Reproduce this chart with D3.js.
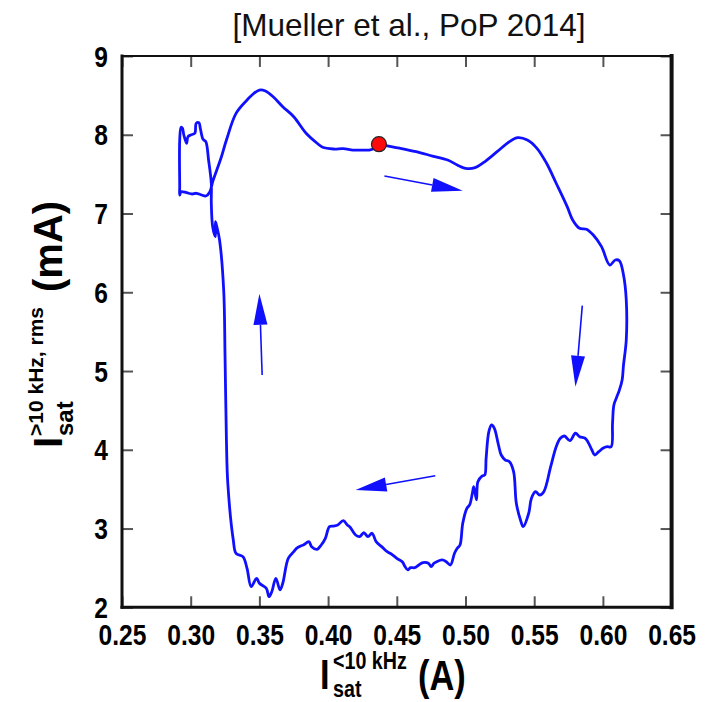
<!DOCTYPE html>
<html>
<head>
<meta charset="utf-8">
<script src="https://cdn.jsdelivr.net/npm/d3@7"></script>
<style>
  body { margin: 0; background: #fff; }
  svg { display: block; }
</style>
</head>
<body>
<svg id="chart" width="706" height="702"></svg>
<script>
// Axis ticks
const xTicks = [0.25, 0.30, 0.35, 0.40, 0.45, 0.50, 0.55, 0.60, 0.65];
const yTicks = [2, 3, 4, 5, 6, 7, 8, 9];

// Trajectory: low-frequency Isat (A) vs high-frequency rms Isat (mA), traced clockwise from the marker
const loopX = [
  0.437, 0.444, 0.452, 0.464, 0.476, 0.487, 0.494, 0.500, 0.507, 0.513,
  0.523, 0.532, 0.538, 0.545, 0.552, 0.559, 0.566, 0.574, 0.578, 0.583,
  0.588, 0.593, 0.599, 0.605, 0.609, 0.612, 0.615, 0.617, 0.617, 0.615,
  0.614, 0.612, 0.610, 0.608, 0.607, 0.606, 0.603, 0.600, 0.597, 0.594,
  0.592, 0.589, 0.587, 0.583, 0.580, 0.576, 0.572, 0.569, 0.566, 0.562,
  0.557, 0.554, 0.551, 0.548, 0.546, 0.542, 0.540, 0.537, 0.535, 0.532,
  0.529, 0.526, 0.524, 0.521, 0.519, 0.517, 0.515, 0.514, 0.512, 0.509,
  0.508, 0.506, 0.505, 0.503, 0.501, 0.498, 0.496, 0.494, 0.492, 0.489,
  0.486, 0.483, 0.479, 0.477, 0.475, 0.473, 0.469, 0.466, 0.463, 0.460,
  0.458, 0.456, 0.454, 0.450, 0.446, 0.443, 0.439, 0.435, 0.432, 0.429,
  0.426, 0.423, 0.420, 0.416, 0.414, 0.411, 0.407, 0.404, 0.401, 0.398,
  0.395, 0.392, 0.388, 0.386, 0.382, 0.380, 0.377, 0.375, 0.371, 0.367,
  0.365, 0.362, 0.359, 0.357, 0.355, 0.350, 0.348, 0.344, 0.341, 0.338,
  0.333, 0.331, 0.327, 0.326, 0.325, 0.324, 0.321,
  0.319, 0.318, 0.318, 0.316, 0.315, 0.315, 0.313, 0.311, 0.309, 0.307,
  0.306, 0.304, 0.303, 0.300, 0.298, 0.297, 0.295, 0.294, 0.293, 0.292,
  0.292, 0.292, 0.293, 0.297, 0.301, 0.304, 0.308, 0.311, 0.314, 0.316,
  0.319, 0.322, 0.326, 0.333, 0.341, 0.346, 0.350, 0.354, 0.360, 0.367,
  0.375, 0.384, 0.392, 0.396, 0.404, 0.411, 0.418, 0.423, 0.430, 0.434,
  0.437
];
const loopY = [
  7.88, 7.857, 7.83, 7.785, 7.73, 7.68, 7.616, 7.574, 7.582, 7.645,
  7.785, 7.912, 7.963, 7.933, 7.828, 7.638, 7.384, 7.087, 6.918, 6.812,
  6.80, 6.727, 6.579, 6.346, 6.41, 6.40, 6.219, 5.902, 5.394, 5.077,
  4.886, 4.759, 4.667, 4.569, 4.336, 4.039, 4.039, 4.019, 3.976, 3.934,
  3.997, 4.103, 4.146, 4.166, 4.21, 4.116, 4.175, 4.146, 4.039, 3.785,
  3.468, 3.426, 3.468, 3.384, 3.194, 3.024, 3.109, 3.321, 3.722, 3.849,
  3.87, 3.934, 4.061, 4.273, 4.315, 4.23, 3.892, 3.68, 3.667, 3.595,
  3.363, 3.532, 3.448, 3.299, 3.257, 3.067, 2.791, 2.749, 2.686, 2.537,
  2.579, 2.601, 2.579, 2.559, 2.516, 2.559, 2.567, 2.537, 2.503, 2.503,
  2.474, 2.516, 2.579, 2.622, 2.677, 2.706, 2.77, 2.833, 2.94, 2.897,
  2.947, 2.897, 2.918, 3.016, 3.045, 3.10, 3.045, 3.032, 3.024, 2.876,
  2.791, 2.737, 2.77, 2.833, 2.791, 2.779, 2.749, 2.706, 2.622, 2.305,
  2.22, 2.368, 2.198, 2.135, 2.242, 2.305, 2.368, 2.262, 2.495, 2.643,
  2.686, 2.855, 3.575, 4.124, 5.182, 6.029, 6.664,
  6.833, 6.896, 6.706, 6.833, 7.13, 7.384, 7.68, 7.912, 7.942, 8.082,
  8.153, 8.145, 8.019, 7.997, 7.975, 7.892, 7.997, 8.082, 8.095, 7.933,
  7.341, 7.235, 7.277, 7.264, 7.248, 7.257, 7.235, 7.222, 7.277, 7.404,
  7.553, 7.701, 7.933, 8.272, 8.441, 8.526, 8.568, 8.559, 8.483, 8.356,
  8.229, 8.019, 7.892, 7.841, 7.819, 7.823, 7.806, 7.806, 7.806, 7.83,
  7.88
];

// Start marker
const markerX = [0.437];
const markerY = [7.88];

// Direction arrows (tail -> tip)
const arrowFromX = [0.441, 0.585, 0.478, 0.352];
const arrowFromY = [7.476, 5.83, 3.671, 4.95];
const arrowToX   = [0.498, 0.580, 0.420, 0.350];
const arrowToY   = [7.29, 4.80, 3.49, 5.98];

const plot = { left: 122, right: 671.6, top: 56, bottom: 607.3 };
const BLUE = "#1010ff";
const FONT = "'Liberation Sans', Arial, Helvetica, sans-serif";

const svg = d3.select("#chart");

const x = d3.scaleLinear().domain([0.25, 0.65]).range([plot.left, plot.right]);
const y = d3.scaleLinear().domain([2, 9]).range([plot.bottom, plot.top]);

// Citation
svg.append("text")
  .attr("x", 409).attr("y", 36)
  .attr("text-anchor", "middle")
  .attr("font-family", FONT)
  .attr("font-size", 31.5)
  .attr("fill", "#111")
  .text("[Mueller et al., PoP 2014]");

// Axes with inward ticks on all four sides
const TICK = 11, NARROW = 0.82;

function styleAxis(g) {
  g.select(".domain").remove();
  g.selectAll(".tick line").attr("stroke", "#555").attr("stroke-width", 2);
}

const gx = svg.append("g")
  .attr("transform", `translate(0,${plot.bottom})`)
  .call(d3.axisBottom(x).tickValues(xTicks).tickSizeInner(-TICK).tickSizeOuter(0)
    .tickFormat(d3.format(".2f")));
styleAxis(gx);
gx.selectAll(".tick text")
  .attr("y", 16).attr("dy", "0.71em")
  .attr("transform", `scale(${NARROW},1)`)
  .attr("font-family", FONT).attr("font-weight", "bold")
  .attr("font-size", 30).attr("fill", "#000");

const gy = svg.append("g")
  .attr("transform", `translate(${plot.left},0)`)
  .call(d3.axisLeft(y).tickValues(yTicks).tickSizeInner(-TICK).tickSizeOuter(0)
    .tickFormat(d3.format("d")));
styleAxis(gy);
gy.selectAll(".tick text")
  .attr("x", -14 / NARROW).attr("dy", "0.34em")
  .attr("transform", `scale(${NARROW},1)`)
  .attr("font-family", FONT).attr("font-weight", "bold")
  .attr("font-size", 30).attr("fill", "#000");

const gt = svg.append("g")
  .attr("transform", `translate(0,${plot.top})`)
  .call(d3.axisTop(x).tickValues(xTicks).tickSizeInner(-TICK).tickSizeOuter(0).tickFormat(""));
styleAxis(gt);

const gr = svg.append("g")
  .attr("transform", `translate(${plot.right},0)`)
  .call(d3.axisRight(y).tickValues(yTicks).tickSizeInner(-TICK).tickSizeOuter(0).tickFormat(""));
styleAxis(gr);

// Frame
const frame = svg.append("g").attr("stroke", "#111").attr("stroke-linecap", "square");
frame.append("line").attr("x1", plot.left).attr("x2", plot.right).attr("y1", plot.top).attr("y2", plot.top).attr("stroke-width", 2);
frame.append("line").attr("x1", plot.left).attr("x2", plot.right).attr("y1", plot.bottom).attr("y2", plot.bottom).attr("stroke-width", 3);
frame.append("line").attr("x1", plot.left).attr("x2", plot.left).attr("y1", plot.top).attr("y2", plot.bottom).attr("stroke-width", 3);
frame.append("line").attr("x1", plot.right).attr("x2", plot.right).attr("y1", plot.top).attr("y2", plot.bottom).attr("stroke-width", 4);

// Trajectory
const pts = loopX.map((v, i) => [v, loopY[i]]);
svg.append("path")
  .datum(pts)
  .attr("fill", "none")
  .attr("stroke", BLUE)
  .attr("stroke-width", 2.8)
  .attr("stroke-linejoin", "round")
  .attr("stroke-linecap", "round")
  .attr("d", d3.line().x(d => x(d[0])).y(d => y(d[1])).curve(d3.curveCatmullRom.alpha(0.5)));

// Arrows
const HEAD_LEN = 31, HEAD_HALF = 7;
arrowFromX.forEach((_, i) => {
  const x0 = x(arrowFromX[i]), y0 = y(arrowFromY[i]);
  const x1 = x(arrowToX[i]), y1 = y(arrowToY[i]);
  const len = Math.hypot(x1 - x0, y1 - y0);
  const ux = (x1 - x0) / len, uy = (y1 - y0) / len;
  const bx = x1 - ux * HEAD_LEN, by = y1 - uy * HEAD_LEN;
  svg.append("line")
    .attr("x1", x0).attr("y1", y0).attr("x2", bx).attr("y2", by)
    .attr("stroke", BLUE).attr("stroke-width", 1.6);
  svg.append("path")
    .attr("d", `M${x1},${y1}L${bx - uy * HEAD_HALF},${by + ux * HEAD_HALF}L${bx + uy * HEAD_HALF},${by - ux * HEAD_HALF}Z`)
    .attr("fill", BLUE);
});

// Marker
svg.selectAll("circle.marker")
  .data(markerX.map((v, i) => [v, markerY[i]]))
  .join("circle")
  .attr("class", "marker")
  .attr("cx", d => x(d[0])).attr("cy", d => y(d[1]))
  .attr("r", 7.5)
  .attr("fill", "#ff0a0a").attr("stroke", "#222").attr("stroke-width", 1.2);

// X axis title: I_sat^{<10 kHz} (A)
const xTitle = svg.append("g")
  .attr("font-family", FONT).attr("font-weight", "bold").attr("fill", "#000");
xTitle.append("text").attr("transform", `translate(320,689) scale(${NARROW},1)`)
  .attr("font-size", 42).text("I");
xTitle.append("text").attr("transform", `translate(333,697) scale(${NARROW},1)`)
  .attr("font-size", 24).text("sat");
xTitle.append("text").attr("transform", `translate(333,669) scale(${NARROW},1)`)
  .attr("font-size", 24).text("<10 kHz");
xTitle.append("text").attr("transform", `translate(418,690) scale(${NARROW},1)`)
  .attr("font-size", 42).text("(A)");

// Y axis title: I_sat^{>10 kHz, rms} (mA)
const yTitle = svg.append("g")
  .attr("transform", "translate(62,448) rotate(-90)")
  .attr("font-family", FONT).attr("font-weight", "bold").attr("fill", "#000");
yTitle.append("text").attr("x", 0).attr("y", 0).attr("font-size", 40).text("I");
yTitle.append("text").attr("x", 12).attr("y", 11).attr("font-size", 24).text("sat");
yTitle.append("text").attr("x", 12).attr("y", -19).attr("font-size", 21).text(">10 kHz, rms");
yTitle.append("text").attr("x", 156).attr("y", 0).attr("font-size", 40).text("(mA)");
</script>
</body>
</html>
